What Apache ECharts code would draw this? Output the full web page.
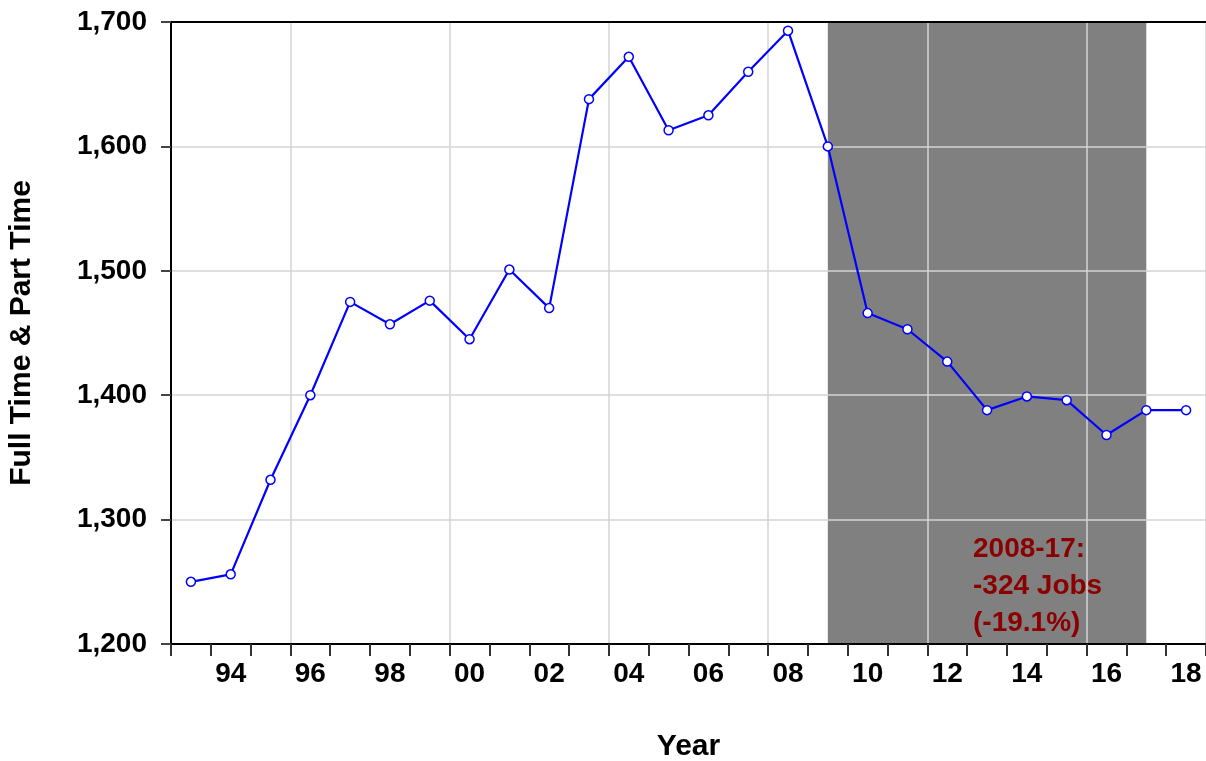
<!DOCTYPE html>
<html>
<head>
<meta charset="utf-8">
<title>Full Time & Part Time</title>
<script src="https://cdn.jsdelivr.net/npm/echarts@6/dist/echarts.min.js"></script>
<style>
  html, body { margin: 0; padding: 0; background: #fff; }
  #main { width: 1206px; height: 761px; }
</style>
</head>
<body>
<div id="main"></div>
<script>
// 年份与数值
var years = ['1993', '1994', '1995', '1996', '1997', '1998', '1999', '2000', '2001', '2002',
  '2003', '2004', '2005', '2006', '2007', '2008', '2009', '2010', '2011', '2012',
  '2013', '2014', '2015', '2016', '2017', '2018'];
var jobs = [1250, 1256, 1332, 1400, 1475, 1457, 1476, 1445, 1501, 1470,
  1638, 1672, 1613, 1625, 1660, 1693, 1600, 1466, 1453, 1427,
  1388, 1399, 1396, 1368, 1388, 1388];
// 阴影区间
var shadeFrom = '2009';
var shadeTo = '2017';
var noteLines = ['2008-17:', '-324 Jobs', '(-19.1%)'];

var font = 'Liberation Sans, Arial, sans-serif';
var chart = echarts.init(document.getElementById('main'));

var option = {
  animation: false,
  grid: { left: 171, right: 0, top: 22, bottom: 117, outerBoundsMode: 'none', containLabel: false },
  xAxis: [
    {
      type: 'category',
      data: years,
      boundaryGap: true,
      z: 1,
      name: 'Year',
      nameLocation: 'middle',
      nameGap: 88,
      nameTextStyle: { fontFamily: font, fontWeight: 'bold', fontSize: 30, color: '#000', verticalAlign: 'top' },
      axisLine: { lineStyle: { color: '#000', width: 2 } },
      axisTick: { show: true, interval: 0, length: 12, lineStyle: { color: '#333', width: 2 } },
      axisLabel: {
        interval: function (index) { return index % 2 === 1; },
        formatter: function (v) { return v.slice(2); },
        margin: 16,
        fontFamily: font, fontWeight: 'bold', fontSize: 28, color: '#000'
      },
      splitLine: {
        show: true,
        interval: function (index) { return index % 4 === 3; },
        lineStyle: { color: '#d4d4d4', width: 1.5 }
      }
    },
    {
      type: 'category',
      data: years,
      position: 'top',
      z: 1,
      axisLine: { lineStyle: { color: '#000', width: 2 } },
      axisTick: { show: false },
      axisLabel: { show: false },
      splitLine: { show: false }
    }
  ],
  yAxis: {
    type: 'value',
    min: 1200,
    max: 1700,
    interval: 100,
    z: 1,
    name: 'Full Time & Part Time',
    nameLocation: 'middle',
    nameGap: 134,
    nameTextStyle: { fontFamily: font, fontWeight: 'bold', fontSize: 30, color: '#000' },
    axisLine: { show: true, lineStyle: { color: '#000', width: 2 } },
    axisTick: { show: true, length: 10, lineStyle: { color: '#444', width: 2 } },
    axisLabel: { margin: 24, fontFamily: font, fontWeight: 'bold', fontSize: 28, color: '#000' },
    splitLine: { show: true, lineStyle: { color: '#d4d4d4', width: 1.5 } }
  },
  series: [
    {
      type: 'line',
      data: jobs,
      z: 3,
      symbol: 'circle',
      symbolSize: 9,
      showAllSymbol: true,
      lineStyle: { color: '#0000ff', width: 2.2 },
      itemStyle: { color: '#ffffff', borderColor: '#0000ff', borderWidth: 1.5 },
      markArea: {
        silent: true,
        z: 0.5,
        itemStyle: { color: '#808080' },
        data: [[{ xAxis: shadeFrom }, { xAxis: shadeTo }]]
      }
    }
  ],
  graphic: [
    {
      type: 'text',
      left: 973,
      top: 531,
      z: 10,
      style: {
        text: noteLines.join('\n'),
        fontFamily: font,
        fontWeight: 'bold',
        fontSize: 28,
        lineHeight: 37,
        fill: '#8b0000'
      }
    }
  ]
};

chart.setOption(option);
</script>
</body>
</html>
